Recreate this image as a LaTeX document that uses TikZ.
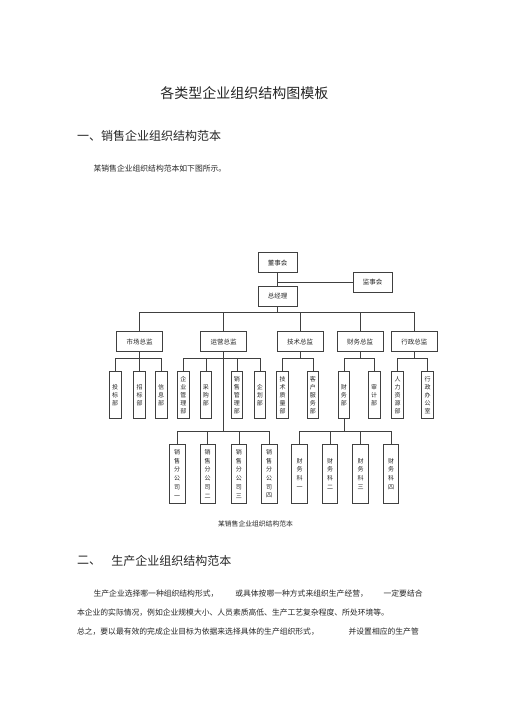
\documentclass[tikz,border=0pt]{standalone}
\usepackage{fontspec}
\setmainfont{Noto Sans CJK SC}
\usetikzlibrary{positioning}

\begin{document}
\begin{tikzpicture}[
        x=1pt, y=-1pt, % one unit is one pixel of the page
        color=black!75,
        line width=0.6pt,
        every node/.style={inner sep=0pt, text=black!85},
        topbox/.style={draw, minimum width=39pt, minimum height=20pt, font=\fontsize{6.5}{8}\selectfont},
        dirbox/.style={draw, minimum width=46pt, minimum height=20pt, font=\fontsize{6.5}{8}\selectfont},
        deptbox/.style={draw, minimum width=11.7pt, minimum height=46.7pt, align=center, font=\fontsize{6}{8}\selectfont},
        subbox/.style={draw, minimum width=15.5pt, minimum height=59pt, align=center, font=\fontsize{6}{8.7}\selectfont},
        txt/.style={anchor=west, font=\fontsize{7.8}{9}\selectfont}
      ]
      \fill[white] (0,0) rectangle (505,714);
      \useasboundingbox (0,0) rectangle (505,714);

      % Page text
      \node[anchor=west, font=\fontsize{14}{16}\selectfont] (title) at (160,92.7) {各类型企业组织结构图模板};
      \node[anchor=west, font=\fontsize{12}{14}\selectfont] (head1) at (76.7,136) {一、销售企业组织结构范本};
      \node[txt] (intro) at (93.3,169) {某销售企业组织结构范本如下图所示。};

      % Top
      \node[topbox] (dsh) at (277.7,262.7) {董事会};
      \node[topbox] (jsh) at (372.7,282.5) {监事会};
      \node[topbox] (zjl) at (277.7,296.2) {总经理};

      % Directors
      \node[dirbox] (sc) at (139.5,341.7) {市场总监};
      \node[dirbox] (yy) at (223.7,341.7) {运营总监};
      \node[dirbox] (js) at (300,341.7) {技术总监};
      \node[dirbox] (cw) at (360,341.7) {财务总监};
      \node[dirbox] (xz) at (414.3,341.7) {行政总监};

      % Departments
      \node[deptbox] (tb) at (115,395) {投\\标\\部};
      \node[deptbox] (zb) at (139.5,395) {招\\标\\部};
      \node[deptbox] (xx) at (161,395) {信\\息\\部};
      \node[deptbox] (qygl) at (183.3,395) {企\\业\\管\\理\\部};
      \node[deptbox] (cg) at (205.8,395) {采\\购\\部};
      \node[deptbox] (xsgl) at (236.8,395) {销\\售\\管\\理\\部};
      \node[deptbox] (qh) at (259.8,395) {企\\划\\部};
      \node[deptbox] (jszl) at (282.5,395) {技\\术\\质\\量\\部};
      \node[deptbox] (khfw) at (312.8,395) {客\\户\\服\\务\\部};
      \node[deptbox] (cwb) at (343.8,395) {财\\务\\部};
      \node[deptbox] (sj) at (374.2,395) {审\\计\\部};
      \node[deptbox] (rlzy) at (397.5,395) {人\\力\\资\\源\\部};
      \node[deptbox] (xzbg) at (427.5,395) {行\\政\\办\\公\\室};

      % Branches and sections
      \foreach \n/\x/\t in {xs1/177.2/{销\\售\\分\\公\\司\\一}, xs2/207.7/{销\\售\\分\\公\\司\\二},
          xs3/238.8/{销\\售\\分\\公\\司\\三}, xs4/269.2/{销\\售\\分\\公\\司\\四},
          ck1/299.5/{财\\务\\科\\一}, ck2/330/{财\\务\\科\\二},
          ck3/360.5/{财\\务\\科\\三}, ck4/391/{财\\务\\科\\四}}
        \node[subbox] (\n) at (\x,473.8) {\t};

      \node[font=\fontsize{6.8}{8}\selectfont] (cap) at (255.5,524.3) {某销售企业组织结构范本};

      % Lines
      \coordinate (busA) at (0,312.3);
      \coordinate (busB) at (0,358.3);
      \coordinate (busC) at (0,431.7);
      \draw (dsh) -- (zjl);
      \draw (jsh.west) -- (jsh.west -| dsh.south);
      \draw (zjl.south) -- (zjl.south |- busA);
      \foreach \d in {sc,yy,js,cw,xz}
        \draw (zjl.south |- busA) -| (\d.north);
      \foreach \p/\kids in {sc/{tb,zb,xx}, yy/{qygl,cg,xsgl,qh}, js/{jszl,khfw}, cw/{cwb,sj}, xz/{rlzy,xzbg}} {
        \draw (\p.south) -- (\p.south |- busB);
        \foreach \k in \kids
          \draw (\p.south |- busB) -| (\k.north);
      }
      \draw (yy.south) -- (yy.south |- busC);
      \foreach \k in {xs1,xs2,xs3,xs4}
        \draw (yy.south |- busC) -| (\k.north);
      \draw (cwb.south) -- (cwb.south |- busC);
      \foreach \k in {ck1,ck2,ck3,ck4}
        \draw (cwb.south |- busC) -| (\k.north);

      % Second part
      \node[anchor=west, font=\fontsize{12}{14}\selectfont] (num2) at (76.7,560.7) {二、};
      \node[anchor=west, font=\fontsize{12}{14}\selectfont] (head2) at (111,560.7) {生产企业组织结构范本};
      \node[txt] (p1a) at (93.3,593.3) {生产企业选择哪一种组织结构形式，};
      \node[txt] (p1b) at (235,593.3) {或具体按哪一种方式来组织生产经营，};
      \node[txt] (p1c) at (383.3,593.3) {一定要结合};
      \node[txt] (p2) at (76.7,612.7) {本企业的实际情况，例如企业规模大小、人员素质高低、生产工艺复杂程度、所处环境等。};
      \node[txt] (p3a) at (76.7,631.7) {总之，要以最有效的完成企业目标为依据来选择具体的生产组织形式，};
      \node[txt] (p3b) at (348.3,631.7) {并设置相应的生产管};

    \end{tikzpicture}
\end{document}
